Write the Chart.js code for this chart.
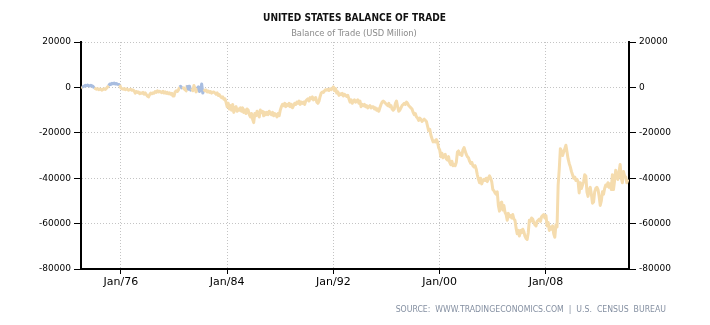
<!DOCTYPE html>
<html><head><meta charset="utf-8">
<script src="https://cdn.jsdelivr.net/npm/chart.js@4.4.1/dist/chart.umd.min.js"></script>
<style>html,body{margin:0;padding:0;background:#fff;overflow:hidden}</style>
</head><body>
<canvas id="c" width="710" height="325"></canvas>
<script>
// ---- data (USD million, monthly from Jan 1973) ----
const startYear = 1973;
const balance = [
  -200, 100, 300, 600, 900, 700, 1000, 800, 600, 900, 700, 400,            // 1973
  -300, -500, -800, -600, -1000, -700, -900, -1200, -800, -600, -900, -400, // 1974
  200, 800, 1500, 1300, 1800, 1600, 1900, 1500, 1700, 1400, 1300, 1100,     // 1975
  -300, -600, -800, -500, -1000, -700, -900, -1200, -1000, -800, -1300, -1100, // 1976
  -1500, -2500, -1800, -2200, -2000, -2800, -2400, -2600, -2200, -3000, -2400, -3200, // 1977
  -3800, -4200, -3200, -2500, -2800, -2400, -2600, -1800, -2200, -1500, -2000, -1700, // 1978
  -2000, -2300, -1700, -2500, -2000, -2600, -2200, -2800, -2400, -3000, -2600, -3800, // 1979
  -3800, -2000, -1500, -1800, -1200, 200, 500, -200, 300, -600, -1000, -1500,  // 1980
  1000, -800, 500, -1200, -300, -1500, 800, -500, -2000, -400, 200, -1800,     // 1981
  -1000, 1500, -2500, -800, -1500, -1200, -2000, -1600, -2200, -1800, -2500, -2100, // 1982
  -2000, -2500, -3000, -2400, -3500, -3200, -4000, -4500, -4200, -5200, -5000, -6500, // 1983
  -8500, -7000, -9500, -8000, -10000, -7500, -11000, -9000, -8500, -10500, -9500, -10000, // 1984
  -9000, -10500, -9000, -11000, -10000, -11500, -9500, -10000, -12000, -13000, -11500, -14000, // 1985
  -15500, -11500, -12500, -10500, -12000, -13000, -10000, -11000, -10500, -12500, -11000, -12000, // 1986
  -11000, -12000, -10500, -11500, -12000, -11000, -12500, -11500, -12000, -13000, -11500, -12500, // 1987
  -10000, -8500, -7500, -8000, -7000, -8500, -7500, -8000, -7000, -8500, -7500, -9000, // 1988
  -8000, -7000, -7500, -6500, -7000, -6000, -7500, -6500, -7000, -6500, -7500, -6000, // 1989
  -5500, -5000, -6000, -4500, -5000, -4200, -5500, -4800, -4500, -6500, -7000, -6000, // 1990
  -4000, -2500, -2000, -2200, -1500, -1000, -1200, -800, -1300, -600, -1000, -500,    // 1991
  200, -1500, -500, -2500, -2000, -3500, -2800, -3200, -2600, -3800, -3000, -3500,    // 1992
  -4000, -3500, -5000, -6500, -5500, -7000, -6000, -5500, -6500, -6000, -5500, -7000, // 1993
  -6000, -8500, -7500, -8000, -7500, -8500, -8000, -9000, -8500, -8000, -9000, -8500, // 1994
  -8500, -9500, -9000, -10000, -9500, -10500, -9000, -7500, -6500, -6000, -6500, -7000, // 1995
  -7500, -8000, -7000, -8500, -8000, -9500, -10000, -9500, -7000, -6000, -8500, -10500, // 1996
  -10000, -9000, -8000, -7500, -7000, -7500, -6500, -7000, -8000, -8500, -9000, -9500, // 1997
  -11000, -12000, -11500, -13000, -13500, -14500, -13500, -14000, -15000, -14500, -14000, -14500, // 1998
  -15000, -17000, -19000, -18500, -21000, -22500, -24000, -23500, -24000, -23000, -24000, -26500, // 1999
  -27500, -30500, -29000, -31000, -30000, -29500, -31500, -32000, -30500, -33000, -34000, -32500, // 2000
  -34500, -34000, -34500, -33000, -28500, -28000, -29500, -29000, -30000, -27500, -26500, -28000, // 2001
  -29500, -30500, -31000, -32500, -33500, -33000, -34500, -35000, -34500, -36000, -38500, -40500, // 2002
  -42000, -40000, -42500, -41000, -40500, -41000, -40000, -41500, -40000, -39000, -40000, -41500, // 2003
  -45000, -45500, -46500, -47000, -46000, -52000, -54500, -51000, -50500, -54000, -52000, -55000, // 2004
  -56000, -58500, -55500, -57000, -56500, -57500, -56000, -58000, -58500, -62000, -64500, -63000, // 2005
  -65500, -63000, -64000, -62500, -63500, -65500, -66500, -67000, -64000, -58500, -59000, -57500, // 2006
  -58000, -59500, -60500, -61000, -59000, -58500, -58000, -59000, -57000, -56500, -56000, -57500, // 2007
  -56500, -61000, -59500, -63000, -61500, -62500, -61000, -64500, -66000, -60500, -61500, -43000, // 2008
  -36000, -27000, -28000, -30000, -28500, -27000, -25500, -28500, -31500, -33500, -35000, -37000, // 2009
  -38500, -40000, -39500, -41000, -40500, -41500, -46500, -42000, -44500, -43000, -41500, -38500, // 2010
  -39000, -46000, -48000, -45000, -44000, -47000, -51000, -50500, -46000, -44500, -44000, -45000, // 2011
  -48000, -52000, -50000, -46000, -47000, -44500, -43000, -43500, -42000, -44000, -42500, -45000, // 2012
  -38500, -45000, -41000, -36500, -39500, -40500, -37000, -34000, -40000, -42000, -37000, -39000, // 2013
  -39500, -42000, -40500                                                                          // 2014
];
// month indexes (from Jan 1973) drawn in the second (blue) colour
const blueRanges = [[1, 12], [25, 35], [89, 92], [96, 100], [105, 111]];
const xTickMonths = [36, 132, 228, 324, 420];
const xTickLabels = ['Jan/76', 'Jan/84', 'Jan/92', 'Jan/00', 'Jan/08'];
const yTicks = [-80000, -60000, -40000, -20000, 0, 20000];
const titleText = 'UNITED STATES BALANCE OF TRADE';
const subtitleText = 'Balance of Trade (USD Million)';
const sourceText = 'SOURCE:  WWW.TRADINGECONOMICS.COM  |  U.S.  CENSUS  BUREAU';

const TAN = '#f5dcae';
const BLUE = '#a8bde0';
const GRID = '#c4c4c4';
const FONT = '"DejaVu Sans", sans-serif';

function isBlue(i) { return blueRanges.some(r => i >= r[0] && i < r[1]); }

function fitFont(ctx, text, weight, family, targetW) {
  ctx.font = weight + ' 20px ' + family;
  const w = ctx.measureText(text).width;
  return 20 * targetW / w;
}

const textPlugin = {
  id: 'texts',
  afterDraw(chart) {
    const ctx = chart.ctx;
    ctx.save();
    ctx.textBaseline = 'middle';
    // title
    let s = fitFont(ctx, titleText, 'bold', '"DejaVu Sans Condensed", sans-serif', 183);
    ctx.font = 'bold ' + s + 'px "DejaVu Sans Condensed", sans-serif';
    ctx.fillStyle = '#111111';
    ctx.textAlign = 'center';
    ctx.fillText(titleText, 354.5, 18);
    // subtitle
    s = fitFont(ctx, subtitleText, 'normal', '"DejaVu Sans Condensed", sans-serif', 126);
    ctx.font = s + 'px "DejaVu Sans Condensed", sans-serif';
    ctx.fillStyle = '#8a8a8a';
    ctx.fillText(subtitleText, 354, 34);
    // source
    s = fitFont(ctx, sourceText, 'normal', '"DejaVu Sans Condensed", sans-serif', 271);
    ctx.font = s + 'px "DejaVu Sans Condensed", sans-serif';
    ctx.fillStyle = '#8590a2';
    ctx.textAlign = 'right';
    ctx.fillText(sourceText, 666, 310);
    ctx.restore();
  }
};

new Chart(document.getElementById('c'), {
  type: 'line',
  data: {
    datasets: [{
      data: balance.map((v, i) => ({ x: i, y: v })),
      borderColor: TAN,
      borderWidth: 3,
      pointRadius: 0,
      tension: 0,
      borderJoinStyle: 'round',
      segment: { borderColor: c => isBlue(c.p0DataIndex) ? BLUE : undefined },
      yAxisID: 'y'
    }]
  },
  options: {
    responsive: false,
    animation: false,
    events: [],
    layout: { padding: { top: 42, left: 0, right: 0, bottom: 0 } },
    plugins: { legend: { display: false }, tooltip: { enabled: false }, title: { display: false } },
    scales: {
      x: {
        type: 'linear', position: 'bottom', min: 0, max: 495,
        afterBuildTicks: s => { s.ticks = xTickMonths.map(v => ({ value: v })); },
        afterFit: s => { s.height = 56; },
        ticks: {
          autoSkip: false, maxRotation: 0, padding: 2, color: '#000',
          font: { family: FONT, size: 11 },
          callback: v => { const i = xTickMonths.indexOf(v); return i >= 0 ? xTickLabels[i] : ''; }
        },
        grid: { color: GRID, lineWidth: 1, tickColor: '#000', tickLength: 5, tickWidth: 1, tickBorderDash: [] },
        border: { display: true, color: '#000', width: 2, dash: [1, 2] }
      },
      y: {
        type: 'linear', position: 'left', min: -80000, max: 20000,
        afterBuildTicks: s => { s.ticks = yTicks.map(v => ({ value: v })); },
        afterFit: s => { s.width = 81; },
        ticks: { padding: 3, color: '#000', font: { family: FONT, size: 9 }, callback: v => String(v) },
        grid: { color: GRID, lineWidth: 1, tickColor: '#000', tickLength: 7, tickWidth: 1, tickBorderDash: [] },
        border: { display: true, color: '#000', width: 2, dash: [1, 2] }
      },
      y2: {
        type: 'linear', position: 'right', min: -80000, max: 20000,
        afterBuildTicks: s => { s.ticks = yTicks.map(v => ({ value: v })); },
        afterFit: s => { s.width = 81; },
        ticks: { padding: 3, color: '#000', font: { family: FONT, size: 9 }, callback: v => String(v) },
        grid: { drawOnChartArea: false, color: GRID, tickColor: '#000', tickLength: 7, tickWidth: 1 },
        border: { display: true, color: '#000', width: 2 }
      }
    }
  },
  plugins: [textPlugin]
});
</script>
</body></html>
